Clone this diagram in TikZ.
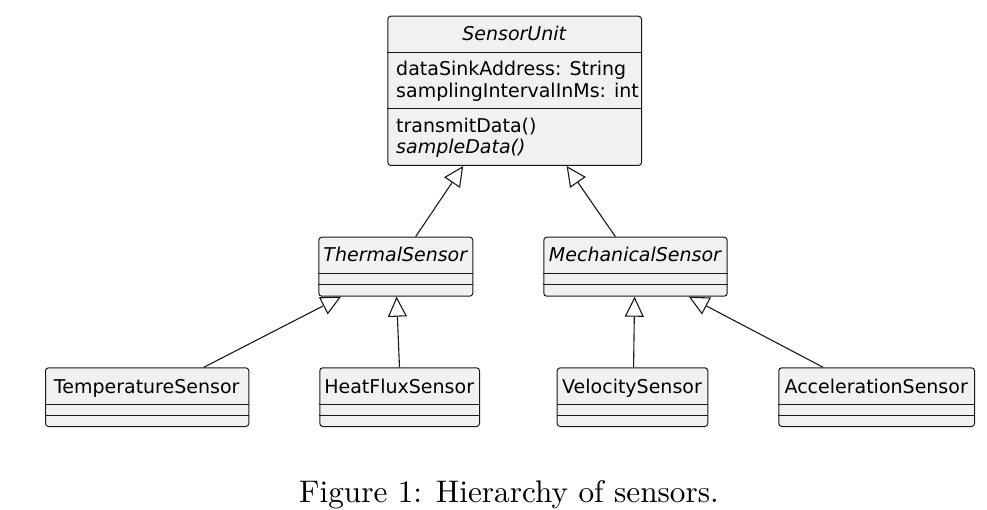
\documentclass[tikz,border=0pt]{standalone}
\usepackage{fontspec}
\newfontfamily\dejavu{DejaVu Sans}
\usetikzlibrary{arrows.meta,calc}
\definecolor{umlfill}{HTML}{F1F1F1}
\definecolor{umlline}{HTML}{181818}
\tikzset{
  classbox/.style={draw=umlline, fill=umlfill, rounded corners=3pt, line width=1pt,
    inner sep=0pt, anchor=north west, rectangle},
  divider/.style={draw=umlline, line width=1pt},
  txt/.style={inner sep=0pt, font=\dejavu\fontsize{19}{22}\selectfont, text=black},
  ititle/.style={txt, font=\dejavu\itshape\fontsize{19}{22}\selectfont},
  inherit/.style={draw=umlline, line width=1.1pt,
    -{Triangle[open, fill=white, length=20pt, width=19pt]}},
}
\begin{document}
\begin{tikzpicture}[x=1pt,y=-1pt]
\useasboundingbox (0,0) rectangle (987,510);

% SensorUnit
\node[classbox, minimum width=253.7pt, minimum height=149.3pt] (su) at (387.3,15.7) {};
\draw[divider] ($(su.north west)+(0,36.6)$) -- ($(su.north east)+(0,36.6)$);
\draw[divider] ($(su.north west)+(0,93.3)$) -- ($(su.north east)+(0,93.3)$);
\node[ititle, anchor=base] (su-t) at (514.2,40.7) {SensorUnit};
\node[txt, anchor=base west] (su-a1) at (396,75.7) {dataSinkAddress: String};
\node[txt, anchor=base west] (su-a2) at (396,97.3) {samplingIntervalInMs: int};
\node[txt, anchor=base west] (su-m1) at (396,132.3) {transmitData()};
\node[ititle, anchor=base west] (su-m2) at (396,153.3) {sampleData()};

% ThermalSensor
\node[classbox, minimum width=154pt, minimum height=59pt] (ts) at (318.3,236.7) {};
\draw[divider] ($(ts.north west)+(0,36.6)$) -- ($(ts.north east)+(0,36.6)$);
\draw[divider] ($(ts.north west)+(0,47.6)$) -- ($(ts.north east)+(0,47.6)$);
\node[ititle, anchor=base] (ts-t) at (395.3,261.7) {ThermalSensor};

% MechanicalSensor
\node[classbox, minimum width=183.4pt, minimum height=59pt] (ms) at (543.3,236.7) {};
\draw[divider] ($(ms.north west)+(0,36.6)$) -- ($(ms.north east)+(0,36.6)$);
\draw[divider] ($(ms.north west)+(0,47.6)$) -- ($(ms.north east)+(0,47.6)$);
\node[ititle, anchor=base] (ms-t) at (635,261.7) {MechanicalSensor};

% TemperatureSensor
\node[classbox, minimum width=203.3pt, minimum height=58.7pt] (tp) at (45,367.3) {};
\draw[divider] ($(tp.north west)+(0,36.7)$) -- ($(tp.north east)+(0,36.7)$);
\draw[divider] ($(tp.north west)+(0,47.7)$) -- ($(tp.north east)+(0,47.7)$);
\node[txt, anchor=base] (tp-t) at (146.7,393.3) {TemperatureSensor};

% HeatFluxSensor
\node[classbox, minimum width=159.7pt, minimum height=58.7pt] (hf) at (319.3,367.3) {};
\draw[divider] ($(hf.north west)+(0,36.7)$) -- ($(hf.north east)+(0,36.7)$);
\draw[divider] ($(hf.north west)+(0,47.7)$) -- ($(hf.north east)+(0,47.7)$);
\node[txt, anchor=base] (hf-t) at (399.2,393.3) {HeatFluxSensor};

% VelocitySensor
\node[classbox, minimum width=150.6pt, minimum height=58.7pt] (vs) at (556.7,367.3) {};
\draw[divider] ($(vs.north west)+(0,36.7)$) -- ($(vs.north east)+(0,36.7)$);
\draw[divider] ($(vs.north west)+(0,47.7)$) -- ($(vs.north east)+(0,47.7)$);
\node[txt, anchor=base] (vs-t) at (632,393.3) {VelocitySensor};

% AccelerationSensor
\node[classbox, minimum width=195.7pt, minimum height=58.7pt] (as) at (778.3,367.3) {};
\draw[divider] ($(as.north west)+(0,36.7)$) -- ($(as.north east)+(0,36.7)$);
\draw[divider] ($(as.north west)+(0,47.7)$) -- ($(as.north east)+(0,47.7)$);
\node[txt, anchor=base] (as-t) at (876.2,393.3) {AccelerationSensor};

% Generalizations
\draw[inherit] ($(ts.north west)!0.628!(ts.north east)$) -- ($(su.south west)!0.298!(su.south east)$);
\draw[inherit] ($(ms.north west)!0.391!(ms.north east)$) -- ($(su.south west)!0.704!(su.south east)$);
\draw[inherit] ($(tp.north west)!0.777!(tp.north east)$) -- ($(ts.south west)!0.147!(ts.south east)$);
\draw[inherit] ($(hf.north west)!0.499!(hf.north east)$) -- ($(ts.south west)!0.505!(ts.south east)$);
\draw[inherit] ($(vs.north west)!0.507!(vs.north east)$) -- ($(ms.south west)!0.495!(ms.south east)$);
\draw[inherit] ($(as.north west)!0.228!(as.north east)$) -- ($(ms.south west)!0.789!(ms.south east)$);

% Caption
\node[anchor=base, scale=3.125, inner sep=0pt] (cap) at (509,502) {Figure 1: Hierarchy of sensors.};
\end{tikzpicture}
\end{document}
